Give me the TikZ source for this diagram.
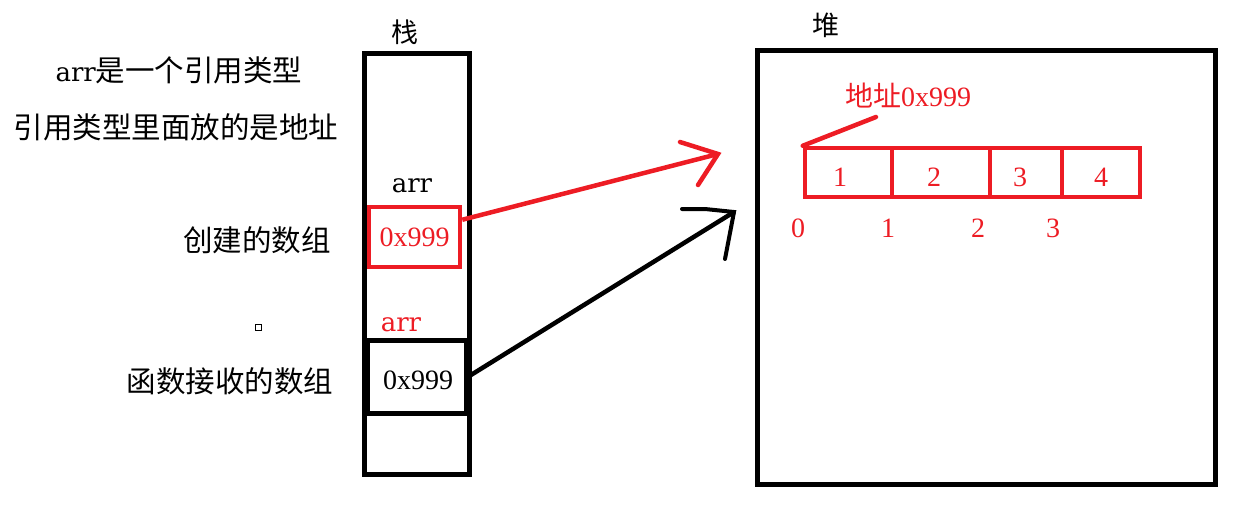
\documentclass[tikz,border=0pt]{standalone}
\usepackage{fontspec}
\setmainfont{Liberation Serif}
\newfontfamily\cjk{Noto Sans CJK SC}
\newfontfamily\arrf{DejaVu Serif}
\definecolor{pred}{HTML}{ED1C24}
\begin{document}
\begin{tikzpicture}[x=1pt,y=-1pt,
  txt/.style={inner sep=0pt,font=\fontsize{28}{30}\selectfont},
  ctxt/.style={inner sep=0pt,font=\fontsize{29.5}{31}\selectfont\cjk},
  rtxt/.style={txt,text=pred},
  box/.style={draw,line width=5pt,inner sep=0pt},
  rbox/.style={draw=pred,line width=4.5pt,inner sep=0pt},
  rline/.style={draw=pred,line width=4.5pt,line cap=round},
  bline/.style={draw=black,line width=4pt,line cap=round}]
\useasboundingbox (0,0) rectangle (1248,512);
% stack
\node[ctxt,font=\fontsize{27}{29}\selectfont\cjk] (stk) at (405,32) {栈};
\node[box,minimum width=104.5pt,minimum height=421pt] (stack) at (416.75,263.5) {};
\draw[line width=5pt] (367,413) -- (469,413);
\node[txt,font=\fontsize{26}{28}\selectfont\arrf] (arrA) at (412,186) {arr};
\node[rbox,minimum width=91pt,minimum height=60pt] (rb) at (414.5,237) {};
\node[rtxt] at (rb) {0x999};
\node[rtxt,font=\fontsize{26}{28}\selectfont\arrf] (arrB) at (401,325) {arr};
\node[box,minimum width=99pt,minimum height=73pt] (bb) at (416.5,376.5) {};
\node[txt] at (418,380) {0x999};
% left texts
\node[ctxt] (t1) at (179,70) {{\arrf\fontsize{26}{28}\selectfont arr}是一个引用类型};
\node[ctxt] (t2) at (176,127) {引用类型里面放的是地址};
\node[ctxt] (t3) at (257,240) {创建的数组};
\node[ctxt] (t4) at (230,381) {函数接收的数组};
\node[draw,line width=1pt,minimum size=6pt,inner sep=0pt] (sq) at (258,327) {};
% heap
\node[ctxt,font=\fontsize{27}{29}\selectfont\cjk] (hp) at (826,25) {堆};
\node[box,minimum width=458pt,minimum height=434pt] (heap) at (986,267) {};
% array cells
\node[rbox,minimum width=87pt,minimum height=49pt] (c1) at (848.5,172.5) {};
\node[rbox,minimum width=98pt,minimum height=49pt] (c2) at (941,172.5) {};
\node[rbox,minimum width=72pt,minimum height=49pt] (c3) at (1026,172.5) {};
\node[rbox,minimum width=78pt,minimum height=49pt] (c4) at (1101,172.5) {};
\node[rtxt] at (840,177) {1};
\node[rtxt] at (934,177) {2};
\node[rtxt] at (1020,177) {3};
\node[rtxt] at (1101,177) {4};
\node[rtxt] (i0) at (798,228) {0};
\node[rtxt] (i1) at (888,228) {1};
\node[rtxt] (i2) at (978,228) {2};
\node[rtxt] (i3) at (1053,228) {3};
\node[rtxt] (addr) at (908,96) {{\cjk 地址}0x999};
\coordinate (addrp) at (876,117);
\draw[rline] (c1.north west) -- (addrp);
% red arrow
\coordinate (rtip) at (718,154);
\coordinate (rh1) at (680,142);
\coordinate (rh2) at (698,185);
\draw[rline,line cap=butt] ([yshift=-15pt]rb.north east) -- (rtip);
\draw[rline] (rh1) -- (rtip) -- (rh2);
% black arrow
\coordinate (btip) at (734,212);
\coordinate (bh1) at (682,209);
\coordinate (bh1b) at (705,209);
\coordinate (bh2) at (725,259);
\draw[bline,line width=4.5pt,line cap=butt] (bb.east) -- (btip);
\draw[bline] (bh1) -- (bh1b) -- (btip) -- (bh2);
\end{tikzpicture}
\end{document}
